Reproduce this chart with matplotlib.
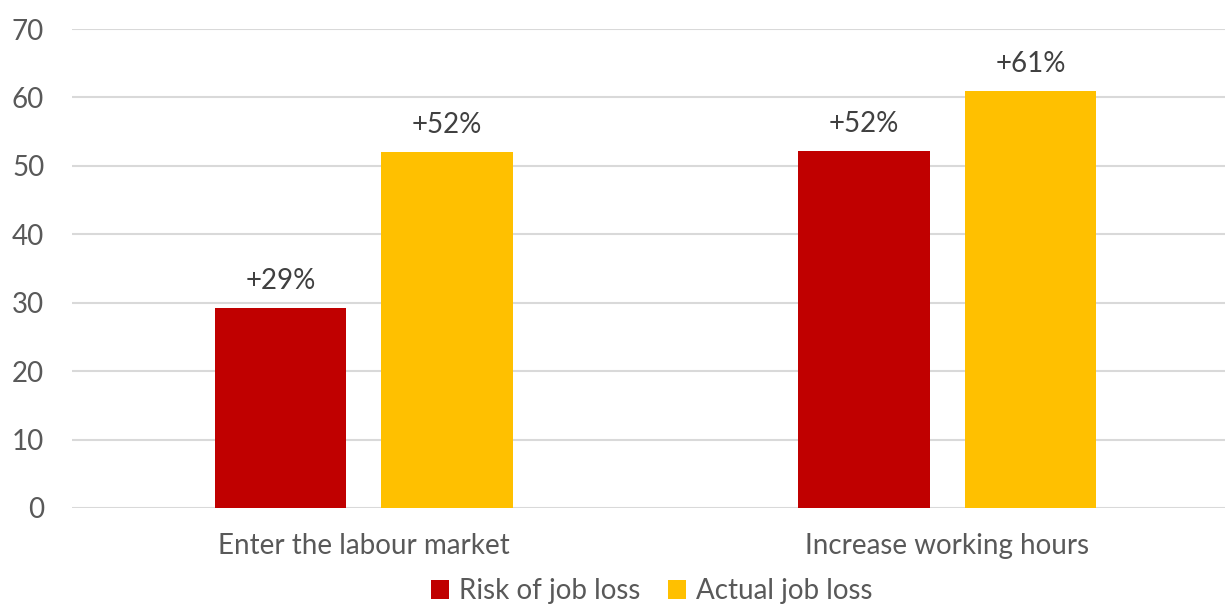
import matplotlib
matplotlib.use("Agg")
import matplotlib.pyplot as plt
import numpy as np

categories = ["Enter the labour market", "Increase working hours"]
risk = [29.3, 52.2]
actual = [52.0, 61.0]
risk_labels = ["+29%", "+52%"]
actual_labels = ["+52%", "+61%"]
series_names = ["Risk of job loss", "Actual job loss"]
colors = ["#C00000", "#FFC000"]

plt.rcParams['font.family'] = ['Lato', 'DejaVu Sans']
txt = "#595959"
fs = 20
W, H = 1225, 605
fig = plt.figure(figsize=(W/100, H/100), dpi=100)
ax = fig.add_axes([72/W, 1-508/H, (1225-72)/W, (508-29)/H])

x = np.arange(len(categories))
bw = 0.225
off = (bw + 0.06) / 2
b1 = ax.bar(x - off, risk, bw, color=colors[0], label=series_names[0], zorder=3)
b2 = ax.bar(x + off, actual, bw, color=colors[1], label=series_names[1], zorder=3)
for bars, labs in ((b1, risk_labels), (b2, actual_labels)):
    for r, l in zip(bars, labs):
        ax.annotate(l, (r.get_x() + r.get_width()/2, r.get_height()),
                    xytext=(0, 10), textcoords="offset points",
                    ha="center", va="bottom", fontsize=fs, color="#404040")

ax.set_xlim(-0.5, 1.476)
ax.set_ylim(0, 70)
ax.set_yticks(range(0, 71, 10))
ax.yaxis.grid(True, color="#D9D9D9", linewidth=1.5, zorder=0)
ax.set_axisbelow(True)
for s in ax.spines.values():
    s.set_visible(False)
ax.tick_params(axis="both", length=0, labelsize=fs, colors=txt)
ax.tick_params(axis="y", pad=20)
ax.tick_params(axis="x", pad=18)
ax.set_xticks(x)
ax.set_xticklabels(categories)

fig.legend(handles=[b1, b2], labels=series_names, loc="center",
           bbox_to_anchor=(652/W, 1-591/H), ncol=2, frameon=False,
           fontsize=fs, labelcolor=txt, handlelength=0.65, handleheight=0.65,
           handletextpad=0.35, columnspacing=1.0)

fig.savefig("out.png", dpi=100)
